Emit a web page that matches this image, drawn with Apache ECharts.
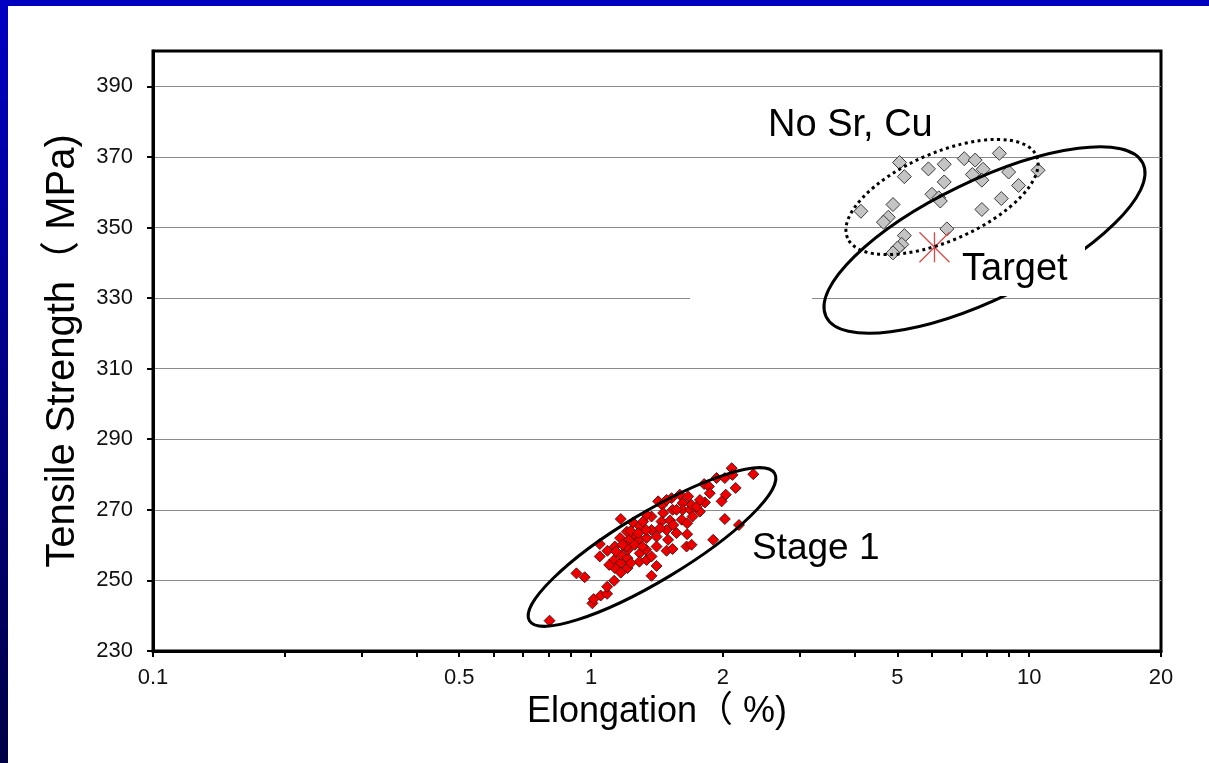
<!DOCTYPE html>
<html>
<head>
<meta charset="utf-8">
<title>Tensile Strength vs Elongation</title>
<script src="https://cdn.jsdelivr.net/npm/echarts@6/dist/echarts.min.js"></script>
<style>
  html, body { margin: 0; padding: 0; background: #fff; }
  #wrap { position: relative; width: 1209px; height: 763px; overflow: hidden; background: #fff; }
  #chart { position: absolute; left: 0; top: 0; width: 1209px; height: 763px; }
  .edge-top { position: absolute; left: 0; top: 0; width: 1209px; height: 6px; background: #0000bf; }
  .edge-left { position: absolute; left: 0; top: 0; width: 8px; height: 763px; background: linear-gradient(#0000c4, #000046); }
</style>
</head>
<body>
<div id="wrap">
  <div id="chart"></div>
  <div class="edge-top"></div>
  <div class="edge-left"></div>
</div>
<script>
// Stage 1 castings: elongation (%) and tensile strength (MPa)
const stage1Elong = [
  0.804, 0.926, 0.967, 1.007, 1.014, 1.052, 1.088, 1.088, 1.129, 1.047,
  1.047, 1.090, 1.133, 1.129, 1.169, 1.172, 1.211, 1.211, 1.214, 1.169,
  1.207, 1.247, 1.258, 1.292, 1.292, 1.339, 1.292, 1.335, 1.289, 1.339,
  1.374, 1.374, 1.411, 1.374, 1.374, 1.335, 1.411, 1.423, 1.453, 1.461,
  1.448, 1.487, 1.499, 1.487, 1.535, 1.527, 1.535, 1.515, 1.595, 1.618,
  1.567, 1.610, 1.618, 1.657, 1.657, 1.652, 1.696, 1.683, 1.696, 1.772,
  1.820, 1.812, 1.858, 1.866, 1.934, 1.986, 2.020, 2.030, 2.094, 2.103,
  2.138, 2.020, 1.900, 2.176, 2.346, 1.165, 1.220, 1.232, 1.315, 1.436,
  1.540, 1.742, 1.411, 1.207, 1.133, 1.169, 1.232, 1.487, 1.567, 1.666,
  1.772, 1.705, 1.339, 1.282, 1.258, 1.310, 1.140, 1.180, 1.100
];
const stage1Strength = [
  238.6, 252.0, 250.9, 243.5, 244.7, 245.7, 246.2, 248.2, 249.9, 260.3,
  256.8, 258.4, 259.6, 255.8, 254.9, 257.2, 253.5, 256.3, 258.7, 267.4,
  263.8, 266.4, 262.9, 265.3, 261.7, 262.0, 257.7, 258.7, 255.3, 255.8,
  256.8, 251.3, 254.1, 268.1, 264.3, 264.3, 262.4, 272.4, 271.4, 269.1,
  266.7, 264.3, 261.5, 258.4, 258.9, 273.3, 270.0, 267.0, 274.3, 271.9,
  263.4, 267.2, 270.0, 266.2, 263.1, 259.6, 260.1, 270.0, 271.4, 269.5,
  272.1, 277.3, 276.6, 274.7, 279.0, 272.4, 279.0, 274.3, 281.8, 279.9,
  276.2, 267.4, 261.5, 265.7, 280.1, 262.0, 261.5, 264.0, 266.7, 264.8,
  265.7, 270.9, 259.6, 259.6, 253.5, 252.2, 254.9, 272.8, 270.0, 273.8,
  272.8, 268.1, 268.6, 263.4, 260.1, 259.6, 258.2, 260.1, 254.4
];

// Castings without Sr and Cu
const noSrCuElong = [
  5.06, 5.19, 5.89, 6.40, 7.11, 7.53, 8.55, 7.42, 7.85, 7.80,
  8.98, 10.48, 6.40, 9.46, 6.00, 6.22, 6.27, 4.89, 8.64, 4.13,
  4.77, 4.65, 7.80, 6.49, 5.19, 5.12, 5.01, 4.89
];
const noSrCuStrength = [
  368.4, 364.4, 366.6, 367.9, 369.5, 369.1, 371.0, 365.0, 366.5, 363.4,
  365.7, 366.2, 362.9, 361.9, 359.4, 358.4, 357.5, 356.5, 358.2, 354.6,
  352.9, 351.5, 355.1, 349.6, 347.7, 345.2, 344.2, 342.8
];

// Target property point
const targetElong = [6.08];
const targetStrength = [344.4];

// Axis tick values
const xLabelValues = [0.1, 0.5, 1, 2, 5, 10, 20];
const xTickValues = [0.1, 0.2, 0.3, 0.4, 0.5, 0.6, 0.7, 0.8, 0.9, 1, 2, 3, 4, 5, 6, 7, 8, 9, 10, 20];
const yLabelValues = [230, 250, 270, 290, 310, 330, 350, 370, 390];

const FONT = '"Liberation Sans", Arial, "Noto Sans CJK TC", sans-serif';
const NAME_FONT = '"Liberation Sans", Arial, "Noto Sans CJK SC", sans-serif';
const zip = (xs, ys) => xs.map((x, i) => [x, ys[i]]);
const deg = d => d * Math.PI / 180;

const chart = echarts.init(document.getElementById('chart'), null, { renderer: 'canvas' });

chart.setOption({
  animation: false,
  backgroundColor: 'transparent',
  grid: {
    left: 153, right: 48, top: 51, bottom: 112,
    show: true, borderColor: '#000', borderWidth: 3, backgroundColor: 'transparent'
  },
  xAxis: {
    type: 'log', logBase: 10, min: 0.1, max: 20,
    name: 'Elongation（ %)', nameLocation: 'middle', nameGap: 40,
    nameTextStyle: { fontSize: 36, fontFamily: NAME_FONT, color: '#000' },
    axisLine: { show: true, onZero: false, lineStyle: { color: '#000', width: 3 } },
    axisTick: { show: true, inside: false, length: 6, lineStyle: { color: '#000', width: 2 }, customValues: xTickValues },
    axisLabel: { customValues: xLabelValues, fontSize: 22, fontFamily: FONT, color: '#111', margin: 16,
      formatter: v => String(+Number(v).toPrecision(6)) },
    splitLine: { show: false },
    minorTick: { show: false }
  },
  yAxis: {
    type: 'value', min: 230, max: 400, interval: 20,
    name: 'Tensile Strength（ MPa)', nameLocation: 'middle', nameGap: 70,
    nameTextStyle: { fontSize: 40, fontFamily: NAME_FONT, color: '#000' },
    axisLine: { show: true, onZero: false, lineStyle: { color: '#000', width: 3 } },
    axisTick: { show: true, inside: false, length: 6, lineStyle: { color: '#000', width: 2 }, customValues: yLabelValues },
    axisLabel: { customValues: yLabelValues, fontSize: 22, fontFamily: FONT, color: '#111', margin: 20 },
    splitLine: { show: true, lineStyle: { color: '#8a8a8a', width: 1 } }
  },
  series: [
    {
      name: 'Stage 1', type: 'scatter', data: zip(stage1Elong, stage1Strength),
      symbol: 'diamond', symbolSize: 11, z: 3,
      itemStyle: { color: '#ee0000', borderColor: '#3a0000', borderWidth: 0.8, opacity: 1 }
    },
    {
      name: 'No Sr, Cu', type: 'scatter', data: zip(noSrCuElong, noSrCuStrength),
      symbol: 'diamond', symbolSize: 14, z: 3,
      itemStyle: { color: '#c4c4c4', borderColor: '#3a3a3a', borderWidth: 1, opacity: 1 }
    },
    {
      name: 'Target', type: 'scatter', data: zip(targetElong, targetStrength),
      symbol: 'path://M0,0L10,10M10,0L0,10M5,0L5,10', symbolSize: 30, z: 4,
      itemStyle: { color: 'rgba(0,0,0,0)', borderColor: '#e04848', borderWidth: 1.3, opacity: 1 }
    }
  ],
  graphic: [
    // break in the 330 gridline
    { type: 'rect', z: 50, shape: { x: 690, y: 296, width: 122, height: 5 }, style: { fill: '#fff' } },
    // Stage 1 envelope
    { type: 'ellipse', z: 60, x: 652, y: 547, rotation: deg(31),
      shape: { cx: 0, cy: 0, rx: 143, ry: 34 }, style: { fill: null, stroke: '#000', lineWidth: 3 } },
    // No Sr, Cu envelope (dotted)
    { type: 'ellipse', z: 60, x: 942, y: 197, rotation: deg(23.5),
      shape: { cx: 0, cy: 0, rx: 103, ry: 44 }, style: { fill: null, stroke: '#000', lineWidth: 3, lineDash: [3, 3.5] } },
    // Target envelope
    { type: 'ellipse', z: 60, x: 984.5, y: 240, rotation: deg(25.8),
      shape: { cx: 0, cy: 0, rx: 176, ry: 59 }, style: { fill: null, stroke: '#000', lineWidth: 3 } },
    // label backing for "Target"
    { type: 'rect', z: 70, shape: { x: 955, y: 243, width: 130, height: 53 }, style: { fill: '#fff' } },
    { type: 'text', z: 80, x: 962, y: 270,
      style: { text: 'Target', fontSize: 38, fontFamily: FONT, fill: '#000', align: 'left', verticalAlign: 'middle' } },
    { type: 'text', z: 80, x: 768, y: 126,
      style: { text: 'No Sr, Cu', fontSize: 38, fontFamily: FONT, fill: '#000', align: 'left', verticalAlign: 'middle' } },
    { type: 'text', z: 80, x: 752, y: 549,
      style: { text: 'Stage 1', fontSize: 37, fontFamily: FONT, fill: '#000', align: 'left', verticalAlign: 'middle' } }
  ]
});
</script>
</body>
</html>
